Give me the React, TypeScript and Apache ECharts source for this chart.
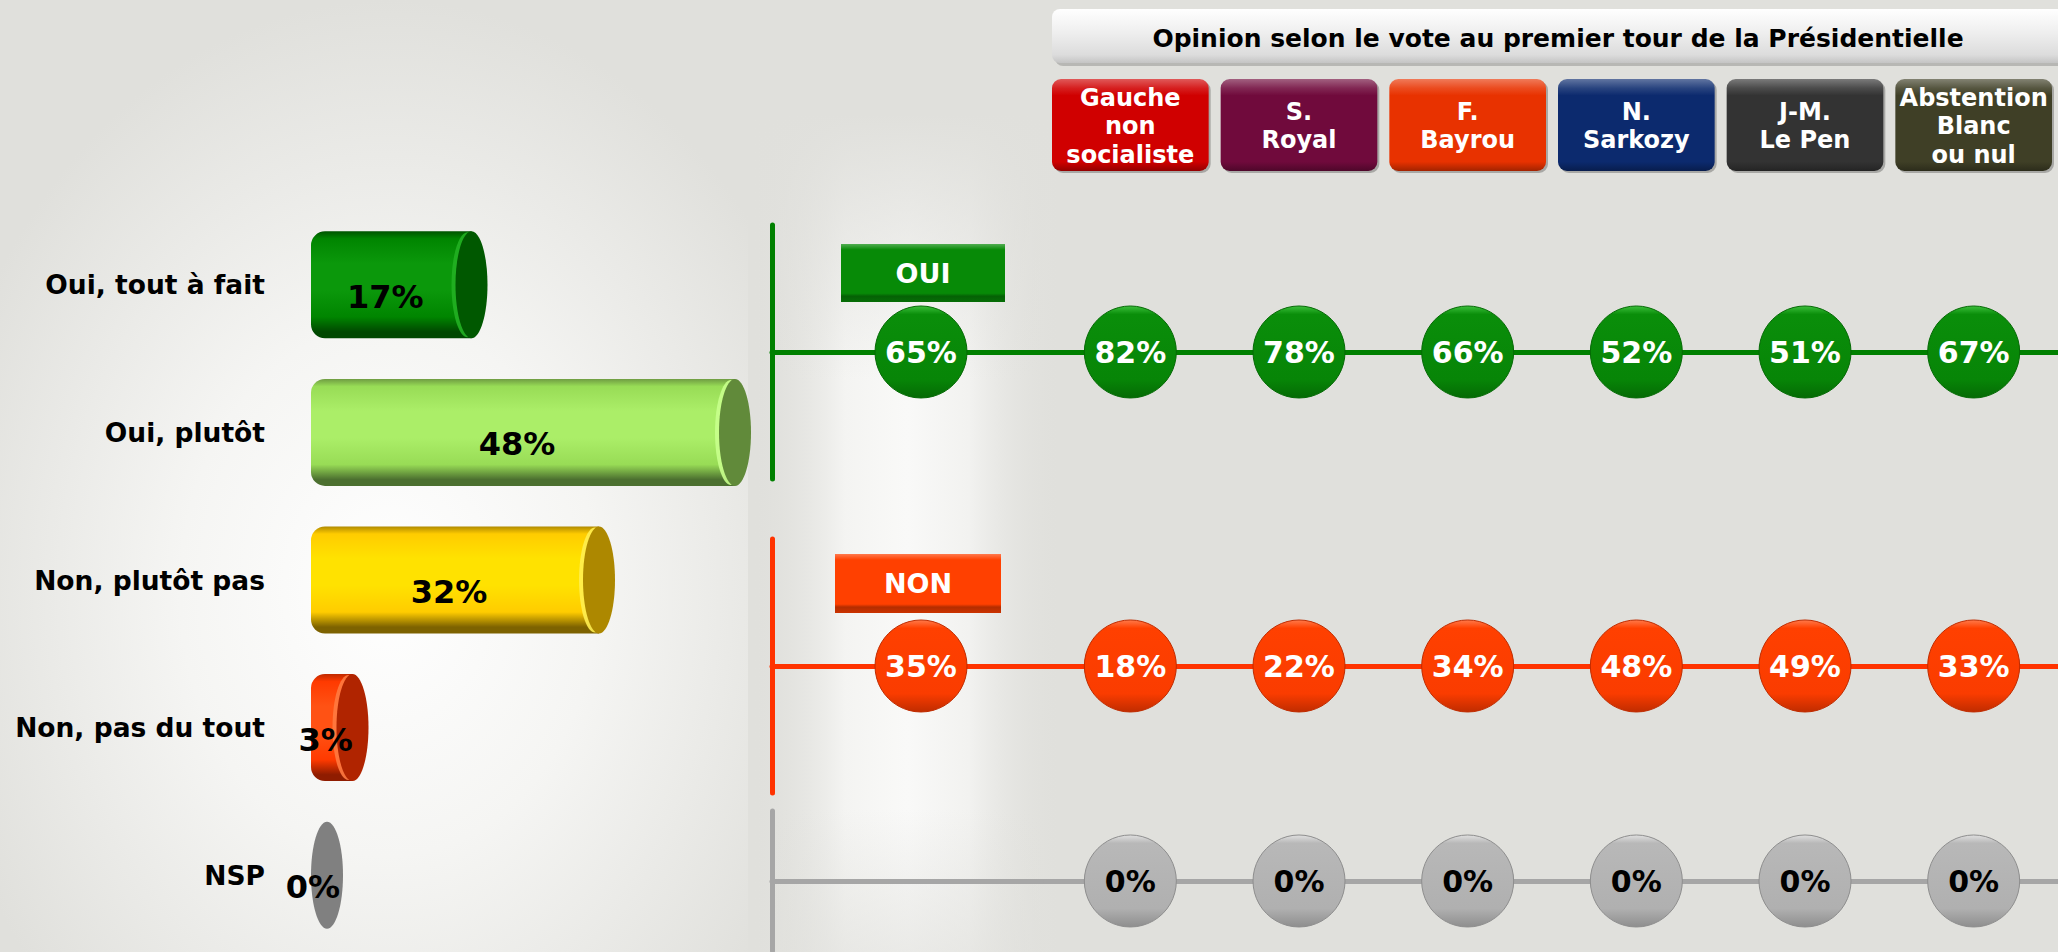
import React, { useEffect, useRef } from "react";
import * as echarts from "echarts";

// ---------------- data ----------------
const answerLabels = ["Oui, tout à fait", "Oui, plutôt", "Non, plutôt pas", "Non, pas du tout", "NSP"];
const answerValues = [17, 48, 32, 3, 0];

const titleText = "Opinion selon le vote au premier tour de la Présidentielle";
const ensembleCategory = ["Ensemble"];
const voterGroups = [
  "Gauche\nnon\nsocialiste",
  "S.\nRoyal",
  "F.\nBayrou",
  "N.\nSarkozy",
  "J-M.\nLe Pen",
  "Abstention\nBlanc\nou nul",
];
const rowNames = ["OUI", "NON", "NSP"];
const ouiEnsemble = [65];
const nonEnsemble = [35];
const nspEnsemble: number[] = [];
const ouiByGroup = [82, 78, 66, 52, 51, 67];
const nonByGroup = [18, 22, 34, 48, 49, 33];
const nspByGroup = [0, 0, 0, 0, 0, 0];

// ---------------- styles ----------------
const FONT = "'DejaVu Sans', Verdana, sans-serif";

const cylinderPalette = [
  { top: "#005400", light: "#0b980b", mid: "#008500", bottom: "#004800", cap: "#005800", hi: "#22b022" },
  { top: "#6f9c42", light: "#abee68", mid: "#98dc56", bottom: "#4c7030", cap: "#618a3a", hi: "#c8ff8c" },
  { top: "#b08a00", light: "#ffe200", mid: "#ffcc00", bottom: "#7d6200", cap: "#ad8800", hi: "#ffee50" },
  { top: "#c02a00", light: "#ff5214", mid: "#ff3a00", bottom: "#8f1c00", cap: "#b02400", hi: "#ff7a40" },
  { top: "#808080", light: "#808080", mid: "#808080", bottom: "#808080", cap: "#808080", hi: "#808080" },
];

const groupColors = ["#d00000", "#700a3c", "#e83200", "#0c2a6e", "#333333", "#3f3f26"];

const rowStyles = [
  { line: "#008000", text: "#ffffff", dot: ["#3cc03c", "#0a8e0a", "#078507", "#056a05"], top: 225, height: 254 },
  { line: "#ff3300", text: "#ffffff", dot: ["#ff7a4a", "#ff4000", "#fa3c00", "#c02c00"], top: 539, height: 254 },
  { line: "#a6a6a6", text: "#000000", dot: ["#e0e0e0", "#b8b8b8", "#b0b0b0", "#8e8e8e"], top: 811, height: 140 },
];

function shade(hex: string, amt: number): string {
  const n = parseInt(hex.slice(1), 16);
  let r = (n >> 16) & 255, g = (n >> 8) & 255, b = n & 255;
  const f = (c: number) => (amt >= 0 ? Math.round(c + (255 - c) * amt) : Math.round(c * (1 + amt)));
  r = f(r); g = f(g); b = f(b);
  return "#" + ((1 << 24) + (r << 16) + (g << 8) + b).toString(16).slice(1);
}

const vgrad = (stops: [number, string][]) =>
  new echarts.graphic.LinearGradient(0, 0, 0, 1, stops.map(([offset, color]) => ({ offset, color })));

export default function App() {
  const ref = useRef<HTMLDivElement>(null);

  useEffect(() => {
    if (!ref.current) return;
    const chart = echarts.init(ref.current, undefined, { renderer: "svg" });

    const grids: any[] = [{ left: 327, width: 510, top: 211, height: 738 }];
    const xAxes: any[] = [
      { gridIndex: 0, type: "value", min: 0, max: 60, show: false },
    ];
    const yAxes: any[] = [
      {
        gridIndex: 0,
        type: "category",
        data: answerLabels,
        inverse: true,
        axisLine: { show: false },
        axisTick: { show: false },
        axisLabel: { margin: 62, color: "#000", fontSize: 26.5, fontWeight: "bold", fontFamily: FONT },
      },
    ];

    const series: any[] = [
      {
        type: "custom",
        name: "answers",
        xAxisIndex: 0,
        yAxisIndex: 0,
        clip: false,
        encode: { x: 0, y: 1 },
        data: answerValues.map((v, i) => [v, i]),
        renderItem: (params: any, api: any) => {
          const v = api.value(0);
          const cat = api.value(1);
          const start = api.coord([0, cat]);
          const end = api.coord([v, cat]);
          const band = api.size([0, 1])[1];
          const h = band * 0.725;
          const rx = 16;
          const cy = start[1];
          const top = cy - h / 2;
          const p = cylinderPalette[params.dataIndex];
          const children: any[] = [];
          if (v > 0) {
            children.push({
              type: "rect",
              shape: { x: start[0] - rx, y: top, width: end[0] - start[0] + rx, height: h, r: [14, 0, 0, 14] },
              style: {
                fill: vgrad([
                  [0, p.top],
                  [0.07, p.mid],
                  [0.3, p.light],
                  [0.55, p.light],
                  [0.8, p.mid],
                  [0.94, p.bottom],
                  [1, p.bottom],
                ]),
              },
            });
            children.push({
              type: "ellipse",
              shape: { cx: end[0] - 4, cy, rx, ry: h / 2 - 1 },
              style: { fill: p.hi, opacity: 0.9 },
            });
          }
          children.push({
            type: "ellipse",
            shape: { cx: end[0], cy, rx, ry: h / 2 },
            style: { fill: p.cap },
          });
          children.push({
            type: "text",
            style: {
              text: v + "%",
              x: (start[0] - rx + end[0]) / 2 - 6,
              y: cy + 12,
              align: "center",
              verticalAlign: "middle",
              fill: "#000",
              fontSize: 32,
              fontWeight: "bold",
              fontFamily: FONT,
            },
          });
          return { type: "group", children };
        },
      },
    ];

    const ensembleData = [ouiEnsemble, nonEnsemble, nspEnsemble];
    const groupData = [ouiByGroup, nonByGroup, nspByGroup];

    rowStyles.forEach((rs, r) => {
      const L = 1 + 2 * r;
      const R = 2 + 2 * r;
      grids.push({ left: 772, width: 298, top: rs.top, height: rs.height });
      grids.push({ left: 1046, right: 0, top: rs.top, height: rs.height });
      const lineStyle = { color: rs.line, width: 5 };
      xAxes.push({
        gridIndex: L,
        type: "category",
        data: ensembleCategory,
        axisLine: { show: true, onZero: true, lineStyle },
        axisTick: { show: false },
        axisLabel: { show: false },
        splitLine: { show: false },
      });
      xAxes.push({
        gridIndex: R,
        type: "category",
        data: voterGroups,
        axisLine: { show: true, onZero: true, lineStyle },
        axisTick: { show: false },
        axisLabel: { show: false },
        splitLine: { show: false },
      });
      yAxes.push({
        gridIndex: L,
        type: "value",
        min: -1,
        max: 1,
        axisLine: { show: true, lineStyle },
        axisTick: { show: false },
        axisLabel: { show: false },
        splitLine: { show: false },
      });
      yAxes.push({
        gridIndex: R,
        type: "value",
        min: -1,
        max: 1,
        axisLine: { show: false },
        axisTick: { show: false },
        axisLabel: { show: false },
        splitLine: { show: false },
      });
      const dotStyle = {
        color: vgrad([
          [0, rs.dot[0]],
          [0.09, rs.dot[1]],
          [0.8, rs.dot[2]],
          [1, rs.dot[3]],
        ]),
        borderColor: rs.dot[3],
        borderWidth: 1,
        opacity: 1,
      };
      const label = {
        show: true,
        position: "inside",
        formatter: (p: any) => p.value[2] + "%",
        color: rs.text,
        fontSize: 30,
        fontWeight: "bold",
        fontFamily: FONT,
      };
      series.push({
        type: "scatter",
        name: rowNames[r] + " ensemble",
        xAxisIndex: L,
        yAxisIndex: L,
        symbol: "circle",
        symbolSize: 92,
        itemStyle: dotStyle,
        label,
        z: 5,
        data: ensembleData[r].map((v, i) => [i, 0, v]),
      });
      series.push({
        type: "scatter",
        name: rowNames[r],
        xAxisIndex: R,
        yAxisIndex: R,
        symbol: "circle",
        symbolSize: 92,
        itemStyle: dotStyle,
        label,
        z: 5,
        data: groupData[r].map((v, i) => [i, 0, v]),
      });
    });

    // header buttons for the voter groups, placed on the party category axis
    series.push({
      type: "custom",
      name: "headers",
      xAxisIndex: 2,
      yAxisIndex: 2,
      clip: false,
      silent: true,
      data: voterGroups.map((g, i) => [i, 0]),
      renderItem: (params: any, api: any) => {
        const i = params.dataIndex;
        const cx = api.coord([api.value(0), 0])[0];
        const w = api.size([1, 0])[0] - 12;
        const c = groupColors[i];
        return {
          type: "group",
          children: [
            {
              type: "rect",
              shape: { x: cx - w / 2 + 2, y: 81, width: w, height: 92, r: 9 },
              style: { fill: "rgba(0,0,0,0.25)" },
            },
            {
              type: "rect",
              shape: { x: cx - w / 2, y: 79, width: w, height: 92, r: 9 },
              style: {
                fill: vgrad([
                  [0, shade(c, 0.35)],
                  [0.1, shade(c, 0.12)],
                  [0.18, c],
                  [0.9, c],
                  [1, shade(c, -0.3)],
                ]),
              },
            },
            {
              type: "text",
              style: {
                text: voterGroups[i],
                x: cx,
                y: 126,
                align: "center",
                verticalAlign: "middle",
                fill: "#ffffff",
                fontSize: 24,
                fontWeight: "bold",
                fontFamily: FONT,
                lineHeight: 28.5,
              },
            },
          ],
        };
      },
    });

    const tag = (x: number, y: number, w: number, h: number, color: string, text: string) => ({
      type: "group",
      z: 10,
      children: [
        {
          type: "rect",
          shape: { x, y, width: w, height: h },
          style: {
            fill: vgrad([
              [0, shade(color, 0.3)],
              [0.1, color],
              [0.85, color],
              [0.9, shade(color, -0.3)],
              [1, shade(color, -0.2)],
            ]),
          },
        },
        {
          type: "text",
          style: {
            text,
            x: x + w / 2,
            y: y + h / 2,
            align: "center",
            verticalAlign: "middle",
            fill: "#ffffff",
            fontSize: 27,
            fontWeight: "bold",
            fontFamily: FONT,
          },
        },
      ],
    });

    const graphic: any[] = [
      {
        type: "rect",
        z: -10,
        silent: true,
        shape: { x: 0, y: 0, width: 748, height: 952 },
        style: {
          fill: new echarts.graphic.RadialGradient(0.52, 0.62, 0.62, [
            { offset: 0, color: "#ffffff" },
            { offset: 0.45, color: "#f5f5f3" },
            { offset: 1, color: "#e0e0dc" },
          ]),
        },
      },
      {
        type: "rect",
        z: -9,
        silent: true,
        shape: { x: 752, y: 0, width: 310, height: 952 },
        style: {
          fill: new echarts.graphic.LinearGradient(0, 0, 1, 0, [
            { offset: 0, color: "rgba(224,224,220,0)" },
            { offset: 0.3, color: "rgba(244,244,242,1)" },
            { offset: 0.5, color: "rgba(249,249,248,1)" },
            { offset: 0.7, color: "rgba(242,242,240,1)" },
            { offset: 1, color: "rgba(224,224,220,0)" },
          ]),
        },
      },
      {
        type: "rect",
        z: -8,
        silent: true,
        shape: { x: 752, y: 0, width: 310, height: 952 },
        style: {
          fill: vgrad([
            [0, "rgba(224,224,220,1)"],
            [0.12, "rgba(224,224,220,1)"],
            [0.4, "rgba(224,224,220,0)"],
            [0.85, "rgba(224,224,220,0)"],
            [1, "rgba(224,224,220,0.6)"],
          ]),
        },
      },
      // title box
      {
        type: "rect",
        z: 10,
        silent: true,
        shape: { x: 1055, y: 12, width: 1020, height: 54, r: 8 },
        style: { fill: "rgba(0,0,0,0.18)" },
      },
      {
        type: "rect",
        z: 10,
        silent: true,
        shape: { x: 1052, y: 9, width: 1020, height: 54, r: 8 },
        style: {
          fill: vgrad([
            [0, "#ffffff"],
            [0.45, "#eeeeee"],
            [0.85, "#dcdcdc"],
            [1, "#c4c4c4"],
          ]),
        },
      },
      {
        type: "text",
        z: 11,
        silent: true,
        style: {
          text: titleText,
          x: 1558,
          y: 38,
          align: "center",
          verticalAlign: "middle",
          fill: "#000",
          fontSize: 25,
          fontWeight: "bold",
          fontFamily: FONT,
        },
      },
      tag(841, 244, 164, 58, "#078a07", rowNames[0]),
      tag(835, 554, 166, 59, "#ff4000", rowNames[1]),
    ];

    chart.setOption({
      animation: false,
      backgroundColor: "#e0e0dc",
      grid: grids,
      xAxis: xAxes,
      yAxis: yAxes,
      series,
      graphic,
    });

    return () => chart.dispose();
  }, []);

  return (
    <div
      ref={ref}
      style={{ position: "fixed", left: 0, top: 0, width: 2058, height: 952 }}
    />
  );
}
